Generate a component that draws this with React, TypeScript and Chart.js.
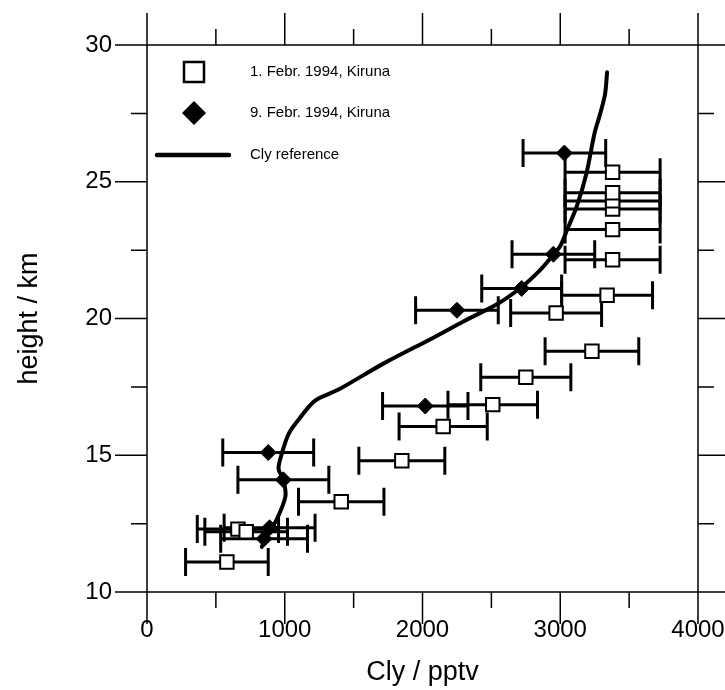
import React, { useEffect, useRef } from 'react';
import { Chart, registerables } from 'chart.js';

Chart.register(...registerables);

// ---- data ----
const X_LABEL = 'Cly / pptv';
const Y_LABEL = 'height / km';
const LEGEND_LABELS = ['1. Febr. 1994, Kiruna', '9. Febr. 1994, Kiruna', 'Cly reference'];

const X_MIN = 0;
const X_MAX = 4000;
const X_MAJOR = 1000;
const X_MINOR = 500;
const Y_MIN = 10;
const Y_MAX = 30;
const Y_MAJOR = 5;
const Y_MINOR = 2.5;

// 1. Febr. 1994 (open squares)
const FEB1_X = [580, 660, 720, 1410, 1850, 2150, 2510, 2750, 3230, 2970, 3340, 3380, 3380, 3380, 3380, 3380, 3380];
const FEB1_Y = [11.1, 12.3, 12.2, 13.3, 14.8, 16.05, 16.85, 17.85, 18.8, 20.2, 20.85, 22.15, 23.25, 24.0, 24.3, 24.6, 25.35];
const FEB1_ERR = [300, 295, 300, 310, 312, 320, 325, 327, 340, 330, 330, 345, 345, 345, 345, 345, 345];

// 9. Febr. 1994 (filled diamonds)
const FEB9_X = [850, 890, 990, 880, 2020, 2250, 2720, 2950, 3030];
const FEB9_Y = [11.95, 12.35, 14.1, 15.1, 16.8, 20.3, 21.1, 22.35, 26.05];
const FEB9_ERR = [315, 330, 330, 330, 310, 300, 290, 300, 300];

// Cly reference profile
const CLY_X = [833, 881, 942, 1005, 990, 955, 978, 1030, 1100, 1220, 1390, 1716, 2079, 2300, 2550, 2720, 2850, 2945, 3000, 3050, 3120, 3190, 3250, 3285, 3325, 3340];
const CLY_Y = [11.65, 12.15, 12.65, 13.5, 14.1, 14.5, 15.05, 15.8, 16.3, 17.0, 17.4, 18.35, 19.3, 19.9, 20.55, 21.15, 21.75, 22.3, 22.65, 23.25, 24.1, 25.3, 26.8, 27.4, 28.2, 29.0];

const FONT = '"Liberation Sans", Arial, Helvetica, sans-serif';

// target plot frame inside the 725x690 canvas
const AREA = { left: 147, right: 698, top: 45, bottom: 592 };

const errorBarPlugin = {
  id: 'errorBars',
  beforeDatasetsDraw(chart: any) {
    const { ctx, scales } = chart;
    const xs = scales.x;
    const ys = scales.y;
    const sets = [
      { X: FEB1_X, Y: FEB1_Y, E: FEB1_ERR },
      { X: FEB9_X, Y: FEB9_Y, E: FEB9_ERR },
    ];
    ctx.save();
    ctx.strokeStyle = '#000';
    ctx.lineWidth = 3;
    ctx.lineCap = 'butt';
    const cap = 14;
    sets.forEach((s) => {
      s.X.forEach((xv, i) => {
        const y = ys.getPixelForValue(s.Y[i]);
        const x1 = xs.getPixelForValue(xv - s.E[i]);
        const x2 = xs.getPixelForValue(xv + s.E[i]);
        ctx.beginPath();
        ctx.moveTo(x1, y);
        ctx.lineTo(x2, y);
        ctx.moveTo(x1, y - cap);
        ctx.lineTo(x1, y + cap);
        ctx.moveTo(x2, y - cap);
        ctx.lineTo(x2, y + cap);
        ctx.stroke();
      });
    });
    ctx.restore();
  },
};

const framePlugin = {
  id: 'frame',
  afterDraw(chart: any) {
    const { ctx, chartArea, scales } = chart;
    const { left, right, top, bottom } = chartArea;
    const xs = scales.x;
    const ys = scales.y;
    const ext = 30;
    const majorLen = 32;
    const minorLen = 16;
    ctx.save();
    ctx.strokeStyle = '#000';
    ctx.lineWidth = 1.5;
    ctx.beginPath();
    ctx.moveTo(left - ext, top);
    ctx.lineTo(right + ext, top);
    ctx.moveTo(left - ext, bottom);
    ctx.lineTo(right + ext, bottom);
    ctx.moveTo(left, top - ext);
    ctx.lineTo(left, bottom + ext);
    ctx.moveTo(right, top - ext);
    ctx.lineTo(right, bottom + ext);
    for (let v = X_MIN; v <= X_MAX + 1e-9; v += X_MINOR) {
      const px = xs.getPixelForValue(v);
      const L = Math.abs(v % X_MAJOR) < 1e-9 ? majorLen : minorLen;
      ctx.moveTo(px, top);
      ctx.lineTo(px, top - L);
      ctx.moveTo(px, bottom);
      ctx.lineTo(px, bottom + L);
    }
    for (let v = Y_MIN; v <= Y_MAX + 1e-9; v += Y_MINOR) {
      const py = ys.getPixelForValue(v);
      const L = Math.abs(v % Y_MAJOR) < 1e-9 ? majorLen : minorLen;
      ctx.moveTo(left, py);
      ctx.lineTo(left - L, py);
      ctx.moveTo(right, py);
      ctx.lineTo(right + L, py);
    }
    ctx.stroke();

    // legend
    const mx = left + 47;
    const tx = left + 103;
    const rows = [top + 27, top + 68, top + 110];
    ctx.font = `15px ${FONT}`;
    ctx.textBaseline = 'middle';
    ctx.textAlign = 'left';
    // square
    ctx.lineWidth = 2.5;
    ctx.fillStyle = '#fff';
    ctx.fillRect(mx - 10, rows[0] - 10, 20, 20);
    ctx.strokeRect(mx - 10, rows[0] - 10, 20, 20);
    // diamond
    ctx.fillStyle = '#000';
    ctx.beginPath();
    ctx.moveTo(mx, rows[1] - 12);
    ctx.lineTo(mx + 12, rows[1]);
    ctx.lineTo(mx, rows[1] + 12);
    ctx.lineTo(mx - 12, rows[1]);
    ctx.closePath();
    ctx.fill();
    // line
    ctx.lineWidth = 4.5;
    ctx.lineCap = 'round';
    ctx.beginPath();
    ctx.moveTo(mx - 37, rows[2]);
    ctx.lineTo(mx + 35, rows[2]);
    ctx.stroke();
    LEGEND_LABELS.forEach((t, i) => ctx.fillText(t, tx, rows[i]));
    ctx.restore();
  },
};

export default function App() {
  const ref = useRef<HTMLCanvasElement | null>(null);
  useEffect(() => {
    if (!ref.current) return;
    const chart: any = new Chart(ref.current, {
      type: 'scatter',
      data: {
        datasets: [
          {
            label: LEGEND_LABELS[0],
            data: FEB1_X.map((x, i) => ({ x, y: FEB1_Y[i] })),
            showLine: false,
            pointStyle: 'rect',
            pointRadius: 9.5,
            pointBackgroundColor: '#fff',
            pointBorderColor: '#000',
            pointBorderWidth: 2,
            order: 1,
          },
          {
            label: LEGEND_LABELS[1],
            data: FEB9_X.map((x, i) => ({ x, y: FEB9_Y[i] })),
            showLine: false,
            pointStyle: 'rectRot',
            pointRadius: 8,
            pointBackgroundColor: '#000',
            pointBorderColor: '#000',
            pointBorderWidth: 1,
            order: 0,
          },
          {
            label: LEGEND_LABELS[2],
            data: CLY_X.map((x, i) => ({ x, y: CLY_Y[i] })),
            showLine: true,
            pointRadius: 0,
            borderColor: '#000',
            borderWidth: 4,
            tension: 0.3,
            borderCapStyle: 'round',
            order: 2,
          },
        ],
      },
      options: {
        responsive: false,
        animation: false,
        layout: { padding: { top: 45, right: 27, left: 0, bottom: 0 } },
        plugins: { legend: { display: false }, tooltip: { enabled: false } },
        scales: {
          x: {
            type: 'linear',
            position: 'bottom',
            min: X_MIN,
            max: X_MAX,
            grid: { display: false, drawTicks: false },
            border: { display: false },
            ticks: {
              stepSize: X_MAJOR,
              color: '#000',
              padding: 24,
              maxRotation: 0,
              callback: (v: any) => String(v),
              font: { family: FONT, size: 24 },
            },
            title: {
              display: true,
              text: X_LABEL,
              color: '#000',
              font: { family: FONT, size: 27 },
              padding: { top: 0, bottom: 1 },
            },
            afterFit: (s: any) => {
              s.height = 98;
              s.paddingLeft = 0;
              s.paddingRight = 0;
            },
          },
          y: {
            type: 'linear',
            position: 'left',
            min: Y_MIN,
            max: Y_MAX,
            grid: { display: false, drawTicks: false },
            border: { display: false },
            ticks: {
              stepSize: Y_MAJOR,
              color: '#000',
              padding: 35,
              callback: (v: any) => String(v),
              font: { family: FONT, size: 24 },
            },
            title: {
              display: true,
              text: Y_LABEL,
              color: '#000',
              font: { family: FONT, size: 27 },
              padding: { top: 13, bottom: 0 },
            },
            afterFit: (s: any) => {
              s.width = 147;
              s.paddingTop = 0;
              s.paddingBottom = 0;
            },
          },
        },
      },
      plugins: [errorBarPlugin, framePlugin],
    });
    // nudge the layout padding so the plot frame lands on the target box
    for (let k = 0; k < 3; k++) {
      const ca = chart.chartArea;
      const dr = ca.right - AREA.right;
      const dt = ca.top - AREA.top;
      if (Math.abs(dr) < 0.5 && Math.abs(dt) < 0.5) break;
      const cur = chart.config.options.layout.padding;
      chart.config.options.layout.padding = {
        top: Math.max(0, cur.top - dt),
        right: Math.max(0, cur.right + dr),
        left: 0,
        bottom: 0,
      };
      chart.update();
    }
    return () => chart.destroy();
  }, []);
  return (
    <div style={{ position: 'absolute', left: 0, top: 0, width: 725, height: 690, background: '#fff' }}>
      <canvas ref={ref} width={725} height={690} style={{ display: 'block' }} />
    </div>
  );
}
